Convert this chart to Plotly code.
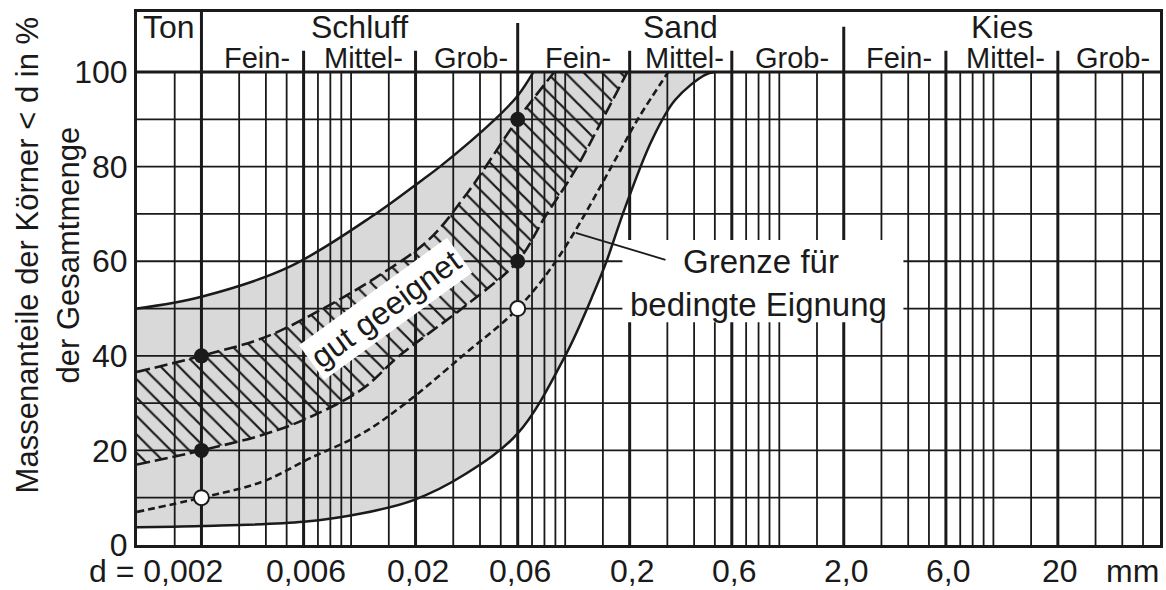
import math
import plotly.graph_objects as go

# ---------------- data ----------------
# grain size d in mm, passing percentage in %
upper_limit_d = [0.001, 0.002, 0.00514, 0.013, 0.0215, 0.026, 0.047, 0.06, 0.071]
upper_limit_p = [50, 52.5, 58.8, 70, 77.2, 80, 90, 95, 100]

lower_limit_d = [0.001, 0.002, 0.006, 0.0113, 0.0196, 0.0342, 0.06, 0.1, 0.138, 0.156, 0.191, 0.254, 0.326, 0.45, 0.5]
lower_limit_p = [3.75, 4, 4.9, 6.7, 9.5, 15, 23.6, 40, 54, 60, 71.5, 85.6, 94.1, 99.4, 100]

upper_good_d = [0.001, 0.002, 0.004, 0.0074, 0.013, 0.023, 0.035, 0.06, 0.089]
upper_good_p = [36.6, 40, 44, 50, 56.5, 64.5, 74.5, 90, 100]

lower_good_d = [0.001, 0.002, 0.004, 0.0064, 0.0113, 0.0168, 0.034, 0.06, 0.0805, 0.1115, 0.149, 0.195]
lower_good_p = [17, 20, 23.5, 27, 33, 40, 50.5, 60, 69.4, 79.3, 89.9, 100]

limit_line_d = [0.001, 0.002, 0.00386, 0.0064, 0.0113, 0.018, 0.0342, 0.06, 0.0936, 0.178, 0.218, 0.303]
limit_line_p = [7, 10, 13.4, 18.3, 23.6, 30, 40.5, 50, 61, 82.8, 90, 100]

good_dots_d = [0.002, 0.002, 0.06, 0.06]
good_dots_p = [40, 20, 90, 60]
limit_dots_d = [0.002, 0.06]
limit_dots_p = [10, 50]

grid_bold_d = [0.002, 0.006, 0.02, 0.06, 0.2, 0.6, 2, 6, 20]
grid_thin_d = [0.0015, 0.003, 0.004, 0.005, 0.007, 0.008, 0.009,
               0.01, 0.015, 0.03, 0.04, 0.05, 0.07, 0.08, 0.09,
               0.1, 0.15, 0.3, 0.4, 0.5, 0.7, 0.8, 0.9,
               1, 1.5, 3, 4, 5, 7, 8, 9,
               10, 15, 30, 40, 50]
grid_p = [10, 20, 30, 40, 50, 60, 70, 80, 90]
y_tick_vals = [0, 20, 40, 60, 80, 100]

x_tick_d = [0.002, 0.006, 0.02, 0.06, 0.2, 0.6, 2, 6, 20]
x_tick_text = ["d = 0,002", "0,006", "0,02", "0,06", "0,2", "0,6", "2,0", "6,0", "20"]

main_classes = ["Ton", "Schluff", "Sand", "Kies"]
main_bounds = [(0.001, 0.002), (0.002, 0.06), (0.06, 2), (2, 60)]
sub_classes = ["Fein-", "Mittel-", "Grob-"] * 3
sub_bounds = [0.002, 0.006, 0.02, 0.06, 0.2, 0.6, 2, 6, 20, 60]

# ---------------- style / layout constants ----------------
D_MIN, D_MAX = 0.001, 60
P_TOP = 112.7
INK = "#1a1a1a"
GREY = "#d9d9d9"
FONT = "Liberation Sans, Arial, sans-serif"
header_top = {0.002: P_TOP, 0.06: 110.4, 2: 109.6}
header_tick = 104.5
XLAB_Y = -0.049

fig = go.Figure()


def line_trace(x, y, width, dash="solid", shape="linear", color=INK):
    return go.Scatter(x=x, y=y, mode="lines",
                      line=dict(color=color, width=width, dash=dash, shape=shape),
                      hoverinfo="skip", showlegend=False)


# grey band (limit of conditional suitability)
fig.add_trace(line_trace(lower_limit_d, lower_limit_p, 0, shape="spline"))
t = line_trace(upper_limit_d, upper_limit_p, 0, shape="spline")
t.update(fill="tonexty", fillcolor=GREY)
fig.add_trace(t)

# hatched band (well suited)
fig.add_trace(line_trace(lower_good_d, lower_good_p, 0, shape="spline"))
t = line_trace(upper_good_d, upper_good_p, 0, shape="spline")
t.update(fill="tonexty", fillcolor="rgba(0,0,0,0)",
         fillpattern=dict(shape="\\", fgcolor=INK, bgcolor="rgba(0,0,0,0)",
                          size=13, solidity=0.17, fillmode="replace"))
fig.add_trace(t)

# grid
gx, gy = [], []
for d in grid_thin_d:
    gx += [d, d, None]
    gy += [0, 100, None]
for p in grid_p:
    gx += [D_MIN, D_MAX, None]
    gy += [p, p, None]
fig.add_trace(line_trace(gx, gy, 1.8))

bx, by = [], []
for d in grid_bold_d:
    bx += [d, d, None]
    by += [0, header_top.get(d, header_tick), None]
bx += [D_MIN, D_MAX, None]
by += [100, 100, None]
fig.add_trace(line_trace(bx, by, 3))

# white label box for "Grenze für bedingte Eignung"
box_x = [0.185, 3.8, 3.8, 0.185, 0.185]
box_y = [47.1, 47.1, 64.5, 64.5, 47.1]
t = go.Scatter(x=box_x, y=box_y, mode="lines", line=dict(width=0),
               fill="toself", fillcolor="white", hoverinfo="skip", showlegend=False)
fig.add_trace(t)
# leader line
fig.add_trace(line_trace([0.112, 0.294], [66, 60.3], 1.8))

# curves
fig.add_trace(line_trace(upper_limit_d, upper_limit_p, 2.5, shape="spline"))
fig.add_trace(line_trace(lower_limit_d, lower_limit_p, 2.5, shape="spline"))
fig.add_trace(line_trace(upper_good_d, upper_good_p, 2.6, dash="13px,5px", shape="spline"))
fig.add_trace(line_trace(lower_good_d, lower_good_p, 2.6, dash="13px,5px", shape="spline"))
fig.add_trace(line_trace(limit_line_d, limit_line_p, 2.6, dash="7px,4px", shape="spline"))

# points
fig.add_trace(go.Scatter(x=good_dots_d, y=good_dots_p, mode="markers",
                         marker=dict(size=15, color=INK, line=dict(width=0)),
                         hoverinfo="skip", showlegend=False))
fig.add_trace(go.Scatter(x=limit_dots_d, y=limit_dots_p, mode="markers",
                         marker=dict(size=15, color="white", line=dict(width=2, color=INK)),
                         hoverinfo="skip", showlegend=False))

ann = []
# x tick labels
for d, txt in zip(x_tick_d, x_tick_text):
    if txt.startswith("d ="):
        ann.append(dict(x=math.log10(d), y=XLAB_Y, xref="x", yref="paper", text=txt,
                        showarrow=False, xanchor="right", yanchor="middle", xshift=24,
                        font=dict(size=32, color=INK, family=FONT)))
    else:
        ann.append(dict(x=math.log10(d), y=XLAB_Y, xref="x", yref="paper", text=txt,
                        showarrow=False, xanchor="center", yanchor="middle", xshift=2,
                        font=dict(size=32, color=INK, family=FONT)))
ann.append(dict(x=1.0, y=XLAB_Y, xref="paper", yref="paper", text="mm",
                showarrow=False, xanchor="right", yanchor="middle", xshift=1,
                font=dict(size=32, color=INK, family=FONT)))

# header labels
for name, (a, b) in zip(main_classes, main_bounds):
    ann.append(dict(x=(math.log10(a) + math.log10(b)) / 2, y=109.6, xref="x", yref="y",
                    text=name, showarrow=False, xanchor="center", yanchor="middle",
                    font=dict(size=32, color=INK, family=FONT)))
for i, name in enumerate(sub_classes):
    a, b = sub_bounds[i], sub_bounds[i + 1]
    ann.append(dict(x=(math.log10(a) + math.log10(b)) / 2, y=103.0, xref="x", yref="y",
                    text=name, showarrow=False, xanchor="center", yanchor="middle", xshift=4,
                    font=dict(size=29, color=INK, family=FONT)))

# in-plot labels
ann.append(dict(x=math.log10(0.0145), y=49.8, xref="x", yref="y", text="gut geeignet",
                showarrow=False, textangle=-36, bgcolor="white", borderpad=3,
                xanchor="center", yanchor="middle",
                font=dict(size=32, color=INK, family=FONT)))
ann.append(dict(x=math.log10(0.817), y=60, xref="x", yref="y", text="Grenze für",
                showarrow=False, xanchor="center", yanchor="middle",
                font=dict(size=33, color=INK, family=FONT)))
ann.append(dict(x=math.log10(0.80), y=50.8, xref="x", yref="y", text="bedingte Eignung",
                showarrow=False, xanchor="center", yanchor="middle",
                font=dict(size=33, color=INK, family=FONT)))

# y axis title
ann.append(dict(x=-0.0872, y=0.543, xref="paper", yref="paper",
                text="Massenanteile der Körner &lt; d in %<br>der Gesamtmenge",
                showarrow=False, textangle=-90, xanchor="center", yanchor="middle",
                font=dict(size=31, color=INK, family=FONT)))

fig.update_layout(
    width=1166, height=590, autosize=False,
    margin=dict(l=137, r=3, t=12, b=45),
    paper_bgcolor="white", plot_bgcolor="white",
    annotations=ann,
    xaxis=dict(type="log", range=[math.log10(D_MIN), math.log10(D_MAX)],
               showgrid=False, zeroline=False, showticklabels=False, ticks="",
               showline=True, linewidth=3, linecolor=INK, mirror=True),
    yaxis=dict(range=[0, P_TOP], tickvals=y_tick_vals,
               ticktext=[str(v) for v in y_tick_vals],
               showgrid=False, zeroline=False, ticks="",
               tickfont=dict(size=32, color=INK, family=FONT),
               showline=True, linewidth=3, linecolor=INK, mirror=True),
    font=dict(family=FONT, color=INK),
)

fig.write_html("out.html",
               config={"displayModeBar": False},
               post_script="document.body.style.margin='0px';document.body.style.overflow='hidden';")
